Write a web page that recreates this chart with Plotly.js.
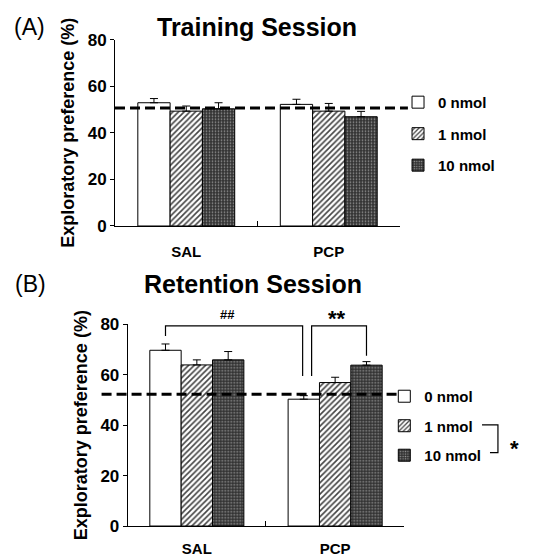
<!DOCTYPE html>
<html>
<head>
<meta charset="utf-8">
<script src="https://cdn.plot.ly/plotly-3.0.1.min.js"></script>
<style>html,body{margin:0;padding:0;background:#fff;}#chart{width:549px;height:558px;}</style>
</head>
<body>
<div id="chart"></div>
<script>
// ---- data ----
const groups = ['SAL', 'PCP'];
const doses = ['0 nmol', '1 nmol', '10 nmol'];
// Training session means and SEM (upper bar)
const train0 = [52.9, 52.2];
const train1 = [49.3, 49.3];
const train10 = [50.3, 46.9];
const trainErr0 = [1.8, 2.2];
const trainErr1 = [2.2, 3.3];
const trainErr10 = [2.6, 2.3];
// Retention session
const ret0 = [69.7, 50.3];
const ret1 = [63.9, 56.9];
const ret10 = [65.9, 63.8];
const retErr0 = [2.5, 1.4];
const retErr1 = [2.0, 2.1];
const retErr10 = [3.3, 1.4];
// chance level dashed lines
const trainChance = 50.6;
const retChance = 52.3;
const yTicks = [0, 20, 40, 60, 80];

const FONT = 'Arial, "Liberation Sans", Helvetica, sans-serif';
const bargap = 0.32;

const patterns = [
  {shape: '', bgcolor: '#ffffff'},
  {shape: '/', bgcolor: '#ffffff', fgcolor: '#444444', size: 4, solidity: 0.4},
  {shape: '.', bgcolor: '#333333', fgcolor: '#9a9a9a', size: 3, solidity: 0.25}
];
const fills = ['#ffffff', '#ffffff', '#333333'];

function mk(vals, errs, i, xa, ya, leg) {
  return {
    type: 'bar', x: groups, y: vals, name: doses[i],
    xaxis: xa, yaxis: ya, legend: leg, legendgroup: leg + i,
    marker: {color: fills[i], pattern: patterns[i], line: {color: '#000', width: 1}},
    error_y: {type: 'data', symmetric: false, array: errs, arrayminus: errs.map(() => 0),
              color: '#000', thickness: 1, width: 4}
  };
}

const data = [
  mk(train0, trainErr0, 0, 'x', 'y', 'legend'),
  mk(train1, trainErr1, 1, 'x', 'y', 'legend'),
  mk(train10, trainErr10, 2, 'x', 'y', 'legend'),
  mk(ret0, retErr0, 0, 'x2', 'y2', 'legend2'),
  mk(ret1, retErr1, 1, 'x2', 'y2', 'legend2'),
  mk(ret10, retErr10, 2, 'x2', 'y2', 'legend2')
];

// bar centre offsets derived from group layout
const groupW = 1 - bargap, barW = groupW / 3;
const off = i => -groupW / 2 + barW * (i + 0.5);
const salCtl = 0 + off(0);
const pcpHigh = 1 + off(2);

function xax(domain, standoff) {
  return {
    domain: domain, range: [-0.5, 1.5], type: 'category',
    showline: true, linecolor: '#000', linewidth: 1,
    ticks: 'inside', tickson: 'boundaries', ticklen: 5, tickcolor: '#000',
    ticklabelstandoff: standoff, showgrid: false, zeroline: false, fixedrange: true,
    tickfont: {family: FONT, size: 15, color: '#000', weight: 'bold'}
  };
}
function yax(domain, standoff) {
  return {
    domain: domain, range: [0, 80], tickvals: yTicks,
    showline: true, linecolor: '#000', linewidth: 1,
    ticks: 'outside', ticklen: 4, tickcolor: '#000', showgrid: false, zeroline: false,
    tickfont: {family: FONT, size: 17, color: '#000', weight: 'bold'},
    title: {text: 'Exploratory preference (%)', standoff: standoff,
            font: {family: FONT, size: 18, color: '#000', weight: 'bold'}},
    fixedrange: true
  };
}
const legFont = {family: FONT, size: 15, color: '#000', weight: 'bold'};

const layout = {
  width: 549, height: 558,
  margin: {l: 0, r: 0, t: 0, b: 0},
  paper_bgcolor: '#fff', plot_bgcolor: '#fff',
  barmode: 'group', bargap: bargap, bargroupgap: 0,
  showlegend: true,
  xaxis: xax([0.2095, 0.7286], 12),
  yaxis: yax([0.595, 0.929], 8),
  xaxis2: Object.assign(xax([0.2326, 0.7364], 9), {anchor: 'y2'}),
  yaxis2: Object.assign(yax([0.0573, 0.4188], 8), {anchor: 'x2'}),
  legend: {x: 0.725, y: 0.76, xanchor: 'left', yanchor: 'middle', font: legFont,
           bgcolor: 'rgba(0,0,0,0)', traceorder: 'grouped', tracegroupgap: 9, itemclick: false},
  legend2: {x: 0.70, y: 0.2366, xanchor: 'left', yanchor: 'middle', font: legFont,
            bgcolor: 'rgba(0,0,0,0)', traceorder: 'grouped', tracegroupgap: 7, itemclick: false},
  shapes: [
    {type: 'line', xref: 'paper', yref: 'y', x0: 0.2095, x1: 0.743, y0: trainChance, y1: trainChance,
     line: {color: '#000', width: 3, dash: '10px,5px'}},
    {type: 'line', xref: 'paper', yref: 'y2', x0: 0.185, x1: 0.743, y0: retChance, y1: retChance,
     line: {color: '#000', width: 3, dash: '10px,5px'}},
    {type: 'path', xref: 'x2', yref: 'y2',
     path: `M ${salCtl},75.4 L ${salCtl},79.4 L 0.765,79.4 L 0.765,59.5`,
     line: {color: '#000', width: 1.2}},
    {type: 'path', xref: 'x2', yref: 'y2',
     path: `M 0.83,59.5 L 0.83,79.4 L ${pcpHigh},79.4 L ${pcpHigh},67.5`,
     line: {color: '#000', width: 1.2}},
    {type: 'path', xref: 'paper', yref: 'paper',
     path: 'M 0.878,0.2384 L 0.907,0.2384 L 0.907,0.1887 L 0.8925,0.1887',
     line: {color: '#000', width: 1.2}}
  ],
  annotations: [
    {xref: 'paper', yref: 'paper', x: 0.468, y: 0.952, xanchor: 'center', yanchor: 'middle',
     text: 'Training Session', showarrow: false,
     font: {family: FONT, size: 25, color: '#000', weight: 'bold'}},
    {xref: 'paper', yref: 'paper', x: 0.053, y: 0.952, xanchor: 'center', yanchor: 'middle',
     text: '(A)', showarrow: false,
     font: {family: FONT, size: 23, color: '#000'}},
    {xref: 'paper', yref: 'paper', x: 0.461, y: 0.491, xanchor: 'center', yanchor: 'middle',
     text: 'Retention Session', showarrow: false,
     font: {family: FONT, size: 25, color: '#000', weight: 'bold'}},
    {xref: 'paper', yref: 'paper', x: 0.056, y: 0.491, xanchor: 'center', yanchor: 'middle',
     text: '(B)', showarrow: false,
     font: {family: FONT, size: 23, color: '#000'}},
    {xref: 'x2', yref: 'paper', x: 0.22, y: 0.4355, xanchor: 'center', yanchor: 'middle',
     text: '##', showarrow: false,
     font: {family: FONT, size: 13, color: '#000', weight: 'bold'}},
    {xref: 'x2', yref: 'paper', x: 1.011, y: 0.43, xanchor: 'center', yanchor: 'middle',
     text: '**', showarrow: false,
     font: {family: FONT, size: 22, color: '#000', weight: 'bold'}},
    {xref: 'paper', yref: 'paper', x: 0.938, y: 0.197, xanchor: 'center', yanchor: 'middle',
     text: '*', showarrow: false,
     font: {family: FONT, size: 22, color: '#000', weight: 'bold'}}
  ]
};

Plotly.newPlot('chart', data, layout, {staticPlot: true, displayModeBar: false});
</script>
</body>
</html>
